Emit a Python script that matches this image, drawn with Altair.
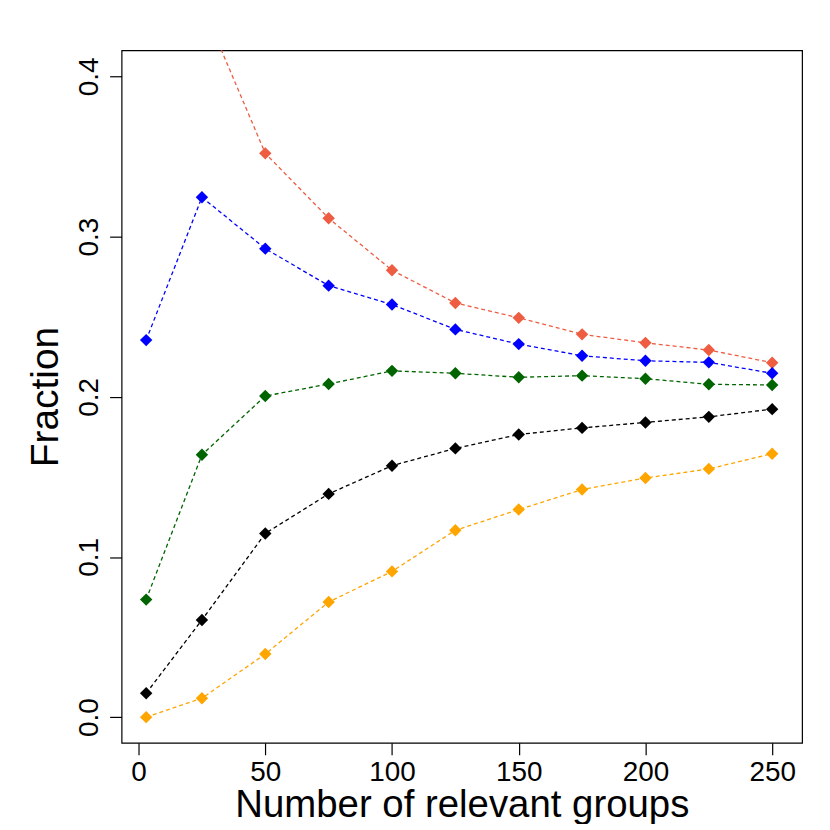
import altair as alt
import pandas as pd

x_vals = [3, 25, 50, 75, 100, 125, 150, 175, 200, 225, 250]
red = [None, 0.445, 0.352, 0.3115, 0.279, 0.2586, 0.2493, 0.239, 0.2337, 0.2292, 0.2213]
blue = [0.2354, 0.3246, 0.2925, 0.2694, 0.2576, 0.2421, 0.2329, 0.2256, 0.2225, 0.2215, 0.2147]
green = [0.0734, 0.1638, 0.2005, 0.208, 0.2162, 0.2147, 0.2122, 0.2132, 0.2113, 0.2078, 0.2074]
black = [0.0149, 0.0607, 0.1147, 0.1394, 0.157, 0.1678, 0.1765, 0.1806, 0.184, 0.1875, 0.1923]
orange = [0.0, 0.0118, 0.0394, 0.0719, 0.091, 0.1167, 0.1296, 0.1421, 0.1493, 0.155, 0.1645]

series_names = ["red", "blue", "green", "black", "orange"]
series_vals = [red, blue, green, black, orange]
series_colors = ["#EE5C42", "#0000FF", "#006400", "#000000", "#FFA500"]

rows = []
for name, vals in zip(series_names, series_vals):
    for xv, yv in zip(x_vals, vals):
        if yv is not None:
            rows.append({"groups": xv, "fraction": yv, "series": name})
df = pd.DataFrame(rows)

FONT = "Liberation Sans"

x_enc = alt.X("groups:Q",
              scale=alt.Scale(domain=[-6.7, 261.8], nice=False, zero=False),
              axis=alt.Axis(values=[0, 50, 100, 150, 200, 250], title="Number of relevant groups",
                            domain=False, grid=False, ticks=True, tickSize=12, tickColor="black", tickWidth=1.2,
                            labelFontSize=28, labelFont=FONT, labelColor="black", labelPadding=4,
                            titleFontSize=38.5, titleFont=FONT, titleFontWeight="normal",
                            titleColor="black", titlePadding=0, labelFlush=False))
y_enc = alt.Y("fraction:Q",
              scale=alt.Scale(domain=[-0.016, 0.4163], nice=False, zero=False),
              axis=alt.Axis(values=[0.0, 0.1, 0.2, 0.3, 0.4], format=".1f", title="Fraction",
                            domain=False, grid=False, ticks=True, tickSize=12, tickColor="black", tickWidth=1.2,
                            labelFontSize=28, labelFont=FONT, labelColor="black", labelPadding=6,
                            labelAngle=270, labelAlign="center", labelBaseline="bottom",
                            titleFontSize=39, titleFont=FONT, titleFontWeight="normal",
                            titleColor="black", titlePadding=10, labelFlush=False))
color_enc = alt.Color("series:N", scale=alt.Scale(domain=series_names, range=series_colors), legend=None)

base = alt.Chart(df).encode(x=x_enc, y=y_enc, color=color_enc, detail="series:N")

lines = base.mark_line(clip=True, strokeDash=[4, 3], strokeWidth=1.3)
points = base.mark_point(clip=True, shape="diamond", filled=True, size=155, opacity=1)

chart = alt.layer(lines, points).properties(
    width=683, height=695,
    padding={"left": 114, "top": 41, "right": 20, "bottom": 80},
    autosize=alt.AutoSizeParams(type="none"),
    background="white",
).configure_view(stroke="black", strokeWidth=1.2)

chart.save("out.html", embed_options={"renderer": "svg", "actions": False})
